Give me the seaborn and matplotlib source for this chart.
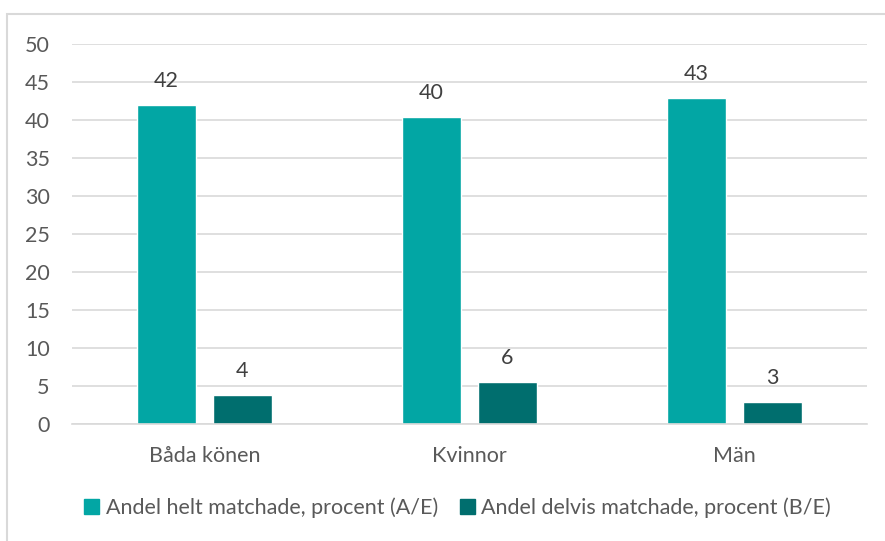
import matplotlib
matplotlib.use("Agg")
import matplotlib.pyplot as plt
import matplotlib.patches as mpatches
import seaborn as sns
import pandas as pd

categories = ["Båda könen", "Kvinnor", "Män"]
series_names = ["Andel helt matchade, procent (A/E)",
                "Andel delvis matchade, procent (B/E)"]
helt_matchade = [42.0, 40.4, 42.9]
delvis_matchade = [3.8, 5.5, 2.9]
y_ticks = [0, 5, 10, 15, 20, 25, 30, 35, 40, 45, 50]

colors = ["#02A6A4", "#006E6E"]
text_color = "#595959"
label_color = "#404040"
grid_color = "#D9D9D9"
fs = 15.5

df = pd.DataFrame({
    "kategori": categories * 2,
    "serie": [series_names[0]] * 3 + [series_names[1]] * 3,
    "procent": helt_matchade + delvis_matchade,
})

sns.set_theme(style="white")
plt.rcParams["font.family"] = ["Lato", "DejaVu Sans"]

fig = plt.figure(figsize=(8.85, 5.41), dpi=100)
ax = fig.add_axes([72 / 885, 1 - 424 / 541, (867 - 72) / 885, (424 - 44) / 541])

sns.barplot(data=df, x="kategori", y="procent", hue="serie",
            palette=colors, width=0.572, gap=0.22, ax=ax,
            saturation=1, legend=False)

ax.set_xlim(-0.5, 2.5)
ax.set_ylim(0, 50)
ax.set_yticks(y_ticks)
ax.set_xlabel("")
ax.set_ylabel("")
ax.yaxis.grid(True, color=grid_color, linewidth=1.2)
ax.set_axisbelow(True)
for side in ["top", "right", "left"]:
    ax.spines[side].set_visible(False)
ax.spines["bottom"].set_color(grid_color)
ax.spines["bottom"].set_linewidth(1.2)
ax.tick_params(axis="both", length=0, labelsize=fs, colors=text_color)
ax.tick_params(axis="y", pad=16)
ax.tick_params(axis="x", pad=16)

for container in ax.containers:
    ax.bar_label(container, fmt="%.0f", padding=10, fontsize=fs,
                 color=label_color)

handles = [mpatches.Patch(color=c, label=n) for c, n in zip(colors, series_names)]
fig.legend(handles=handles, loc="center", bbox_to_anchor=(0.517, 0.061),
           ncol=2, frameon=False, fontsize=fs, labelcolor=text_color,
           handlelength=0.7, handleheight=0.7, handletextpad=0.3,
           columnspacing=1.0)

# light outer frame around the chart area
fig.patches.append(mpatches.Rectangle((7 / 885, -0.1), 1.2, 1 - 14 / 541 + 0.1,
                                      transform=fig.transFigure, fill=False,
                                      edgecolor=grid_color, linewidth=1.5,
                                      clip_on=False))

fig.savefig("out.png", dpi=100)
